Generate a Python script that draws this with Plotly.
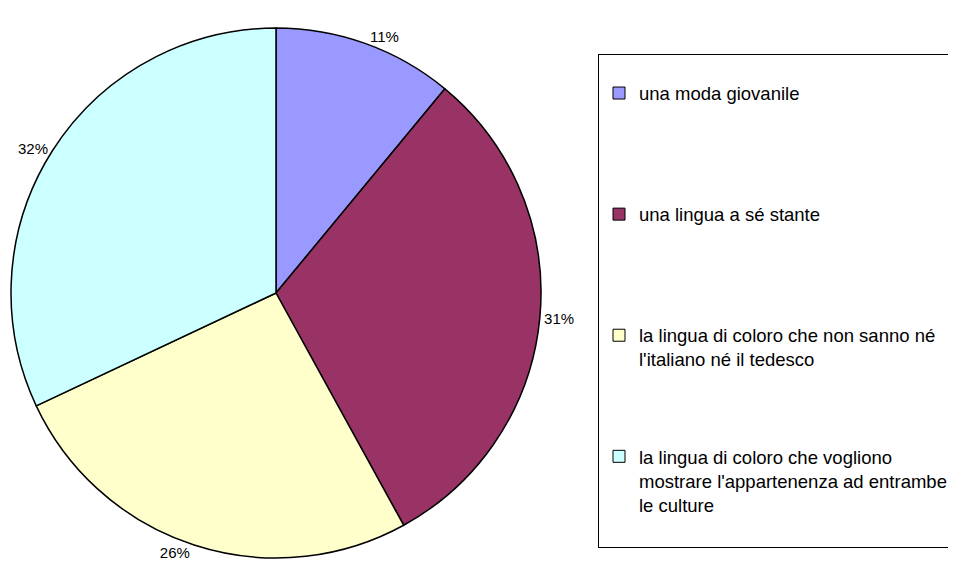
import plotly.graph_objects as go

categories = [
    "una moda giovanile",
    "una lingua a sé stante",
    "la lingua di coloro che non sanno né<br>l'italiano né il tedesco",
    "la lingua di coloro che vogliono<br>mostrare l'appartenenza ad entrambe<br>le culture",
]
values = [11, 31, 26, 32]
colors = ["#9999FF", "#993366", "#FFFFCC", "#CCFFFF"]
# blank lines appended to legend entries to reproduce the evenly spread legend
legend_padding = ["<br> ", "<br> ", "", "<br> "]

W, H = 956, 571
OFF = 8  # page body margin offset
cx, cy, R = 276 - OFF, 293 - OFF, 265

fig = go.Figure()
fig.add_trace(go.Pie(
    labels=[c.replace("<br>", " ") for c in categories],
    values=values,
    sort=False,
    direction="clockwise",
    rotation=0,
    marker=dict(colors=colors, line=dict(color="black", width=1.5)),
    texttemplate="%{percent:.0%}",
    textposition="outside",
    textfont=dict(family="Arial, Liberation Sans, sans-serif", size=15, color="black"),
    showlegend=False,
    hoverinfo="label+percent",
    domain=dict(x=[(cx - R) / W, (cx + R) / W], y=[(H - cy - R) / H, (H - cy + R) / H]),
))

for i, (name, col, pad) in enumerate(zip(categories, colors, legend_padding)):
    fig.add_trace(go.Scatter(
        x=[None], y=[None], mode="markers", name=name + pad, legendgroup=f"g{i}",
        marker=dict(symbol="square", size=12, color=col, line=dict(color="black", width=1)),
    ))

fig.update_layout(
    width=W, height=H,
    margin=dict(l=0, r=0, t=0, b=0, autoexpand=False),
    paper_bgcolor="white", plot_bgcolor="white",
    xaxis=dict(visible=False), yaxis=dict(visible=False),
    legend=dict(
        x=590 / W, xanchor="left", y=1 - 46 / H, yanchor="top",
        bordercolor="black", borderwidth=1, bgcolor="white",
        font=dict(family="Arial, Liberation Sans, sans-serif", size=18.5, color="black"),
        title=dict(text=" ", font=dict(size=15)),
        tracegroupgap=70, valign="top", traceorder="grouped",
        entrywidth=400, entrywidthmode="pixels",
    ),
)
fig.write_html("out.html")
